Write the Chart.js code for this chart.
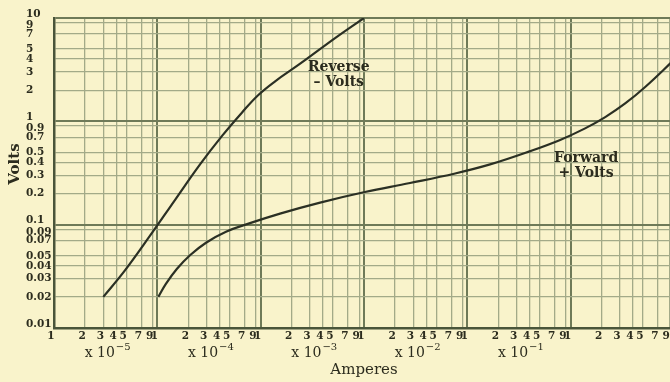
<!DOCTYPE html>
<html>
<head>
<meta charset="utf-8">
<script src="https://cdn.jsdelivr.net/npm/chart.js@4.4.1/dist/chart.umd.min.js"></script>
<style>
  html, body { margin: 0; padding: 0; background: #f9f3cb; overflow: hidden; }
  #wrap { width: 677px; height: 382px; }
</style>
</head>
<body>
<div id="wrap"><canvas id="chart" width="677" height="382"></canvas></div>
<script>
// decades of the current axis (amperes) and the digits printed in each
const DECADES = [-5, -4, -3, -2, -1, 0];
const DECADE_EXPONENTS = ["-5", "-4", "-3", "-2", "-1", ""];
const X_MANTISSAS = [1, 2, 3, 4, 5, 7, 9];

const Y_TICK_LABELS = ["0.01", "0.02", "0.03", "0.04", "0.05", "0.07", "0.09",
    "0.1", "0.2", "0.3", "0.4", "0.5", "0.7", "0.9",
    "1", "2", "3", "4", "5", "7", "9", "10"];

const reverseAmps  = [3.0e-5, 4.86e-5, 8.5e-5, 1.48e-4, 2.59e-4, 4.23e-4, 6.61e-4, 9.44e-4, 1.38e-3, 2.41e-3, 5.25e-3, 1.0e-2];
const reverseVolts = [0.02,   0.0361,  0.0782, 0.173,   0.383,   0.723,   1.22,    1.79,    2.44,    3.61,    6.39,    10];

const forwardAmps  = [1.023e-4, 1.21e-4, 1.55e-4, 2.07e-4, 2.96e-4, 4.62e-4, 7.89e-4, 1.54e-3, 3.76e-3, 1.02e-2, 2.79e-2, 7.62e-2, 0.166, 0.406, 0.791, 1.38,  2.16,  3.37,  5.26, 10];
const forwardVolts = [0.02,     0.0267,  0.0374,  0.0506,  0.0669,  0.0855,  0.1035,  0.128,   0.1635,  0.207,   0.253,   0.313,   0.383, 0.515, 0.661, 0.855, 1.099, 1.489, 2.15, 3.93];

const INK = "#2c2c1e";
const CURVE = "#2b3024";
const GRID_MINOR = "#a3aa88";
const GRID_MAJOR = "#6f7a58";

const xTicks = [];
DECADES.forEach(d => {
    X_MANTISSAS.forEach(m => xTicks.push({ value: m * Math.pow(10, d), label: String(m) }));
});
xTicks.push({ value: 10, label: "" });

function isDecade(v) {
    const l = Math.log10(v);
    return Math.abs(l - Math.round(l)) < 1e-6;
}
function isNine(v) {
    const l = Math.log10(v / 9);
    return Math.abs(l - Math.round(l)) < 1e-6;
}

const toPoints = (xs, ys) => xs.map((x, i) => ({ x, y: ys[i] }));

const CURVE_LABELS = [
    { lines: ["Reverse", "\u2013 Volts"], amps: 5.7e-3, volts: 3.3 },
    { lines: ["Forward", "+ Volts"], amps: 1.41, volts: 0.44 },
];

const textPlugin = {
    id: "texts",
    afterDraw(chart) {
        const { ctx, scales: { x, y } } = chart;
        ctx.save();
        ctx.fillStyle = INK;

        // "x 10^n" under each decade
        ctx.textBaseline = "alphabetic";
        ctx.textAlign = "left";
        DECADES.forEach((d, i) => {
            const exp = DECADE_EXPONENTS[i];
            if (!exp) return;
            const cx = x.getPixelForValue(3.3 * Math.pow(10, d));
            const base = "x 10";
            const sup = exp.replace("-", "\u2212");
            ctx.font = "14px 'DejaVu Serif'";
            const wb = ctx.measureText(base).width;
            ctx.font = "10px 'DejaVu Serif'";
            const ws = ctx.measureText(sup).width;
            const x0 = cx - (wb + ws + 1) / 2;
            ctx.font = "14px 'DejaVu Serif'";
            ctx.fillText(base, x0, 357);
            ctx.font = "10px 'DejaVu Serif'";
            ctx.fillText(sup, x0 + wb + 1, 350);
        });

        // curve names
        ctx.textAlign = "center";
        ctx.textBaseline = "middle";
        ctx.font = "bold 14px 'DejaVu Serif'";
        CURVE_LABELS.forEach(c => {
            const px = x.getPixelForValue(c.amps);
            const py = y.getPixelForValue(c.volts);
            c.lines.forEach((t, k) => ctx.fillText(t, px, py + k * 15));
        });

        // y axis title
        ctx.font = "bold 15px 'DejaVu Serif'";
        ctx.translate(15, 164);
        ctx.rotate(-Math.PI / 2);
        ctx.fillText("Volts", 0, 0);
        ctx.restore();
    }
};

const gridColor = c => (c.tick && isDecade(c.tick.value)) ? GRID_MAJOR : GRID_MINOR;
const gridWidth = c => (c.tick && isDecade(c.tick.value)) ? 2 : 1.3;

new Chart(document.getElementById("chart"), {
    type: "line",
    data: {
        datasets: [
            {
                label: "Reverse - Volts",
                data: toPoints(reverseAmps, reverseVolts),
                borderColor: CURVE, borderWidth: 2.2,
                pointRadius: 0, tension: 0.4,
            },
            {
                label: "Forward + Volts",
                data: toPoints(forwardAmps, forwardVolts),
                borderColor: CURVE, borderWidth: 2.2,
                pointRadius: 0, tension: 0.4,
            },
        ],
    },
    options: {
        responsive: false,
        animation: false,
        devicePixelRatio: 1,
        layout: { padding: { left: 26, top: 18, right: 3, bottom: 0 } },
        plugins: { legend: { display: false }, tooltip: { enabled: false } },
        scales: {
            x: {
                type: "logarithmic",
                min: 1e-5, max: 10,
                afterBuildTicks: s => { s.ticks = xTicks.map(t => ({ value: t.value })); },
                afterFit: s => { s.height = 54; },
                grid: { color: gridColor, lineWidth: gridWidth, drawTicks: false },
                border: { display: true, color: "#4a553a", width: 2.5 },
                ticks: {
                    autoSkip: false, maxRotation: 0, padding: 2, labelOffset: -3,
                    color: INK,
                    font: { family: "'DejaVu Serif'", size: 10.5, weight: "bold" },
                    callback: (v, i) => xTicks[i] ? xTicks[i].label : "",
                },
                title: {
                    display: true, text: "Amperes", color: INK,
                    font: { family: "'DejaVu Serif'", size: 15 },
                    padding: { top: 0, bottom: 3 },
                },
            },
            y: {
                type: "logarithmic",
                min: 0.01, max: 10,
                afterBuildTicks: s => { s.ticks = Y_TICK_LABELS.map(t => ({ value: parseFloat(t) })); },
                afterFit: s => { s.width = 28; },
                grid: { color: gridColor, lineWidth: gridWidth, drawTicks: false },
                border: { display: true, color: "#4a553a", width: 2.5 },
                ticks: {
                    autoSkip: false, crossAlign: "far", padding: 0,
                    color: INK,
                    font: c => {
                        const v = c.tick ? c.tick.value : 1;
                        let lh = 1.2;
                        if (isDecade(v)) lh = "8px";
                        else if (isNine(v)) lh = "5px";
                        return { family: "'DejaVu Serif'", size: 10.5, weight: "bold", lineHeight: lh };
                    },
                    callback: (v, i) => {
                        const t = Y_TICK_LABELS[i];
                        if (isDecade(v)) return [t, ""];
                        if (isNine(v)) return ["", t];
                        return t;
                    },
                },
            },
        },
    },
    plugins: [textPlugin],
});
</script>
</body>
</html>
